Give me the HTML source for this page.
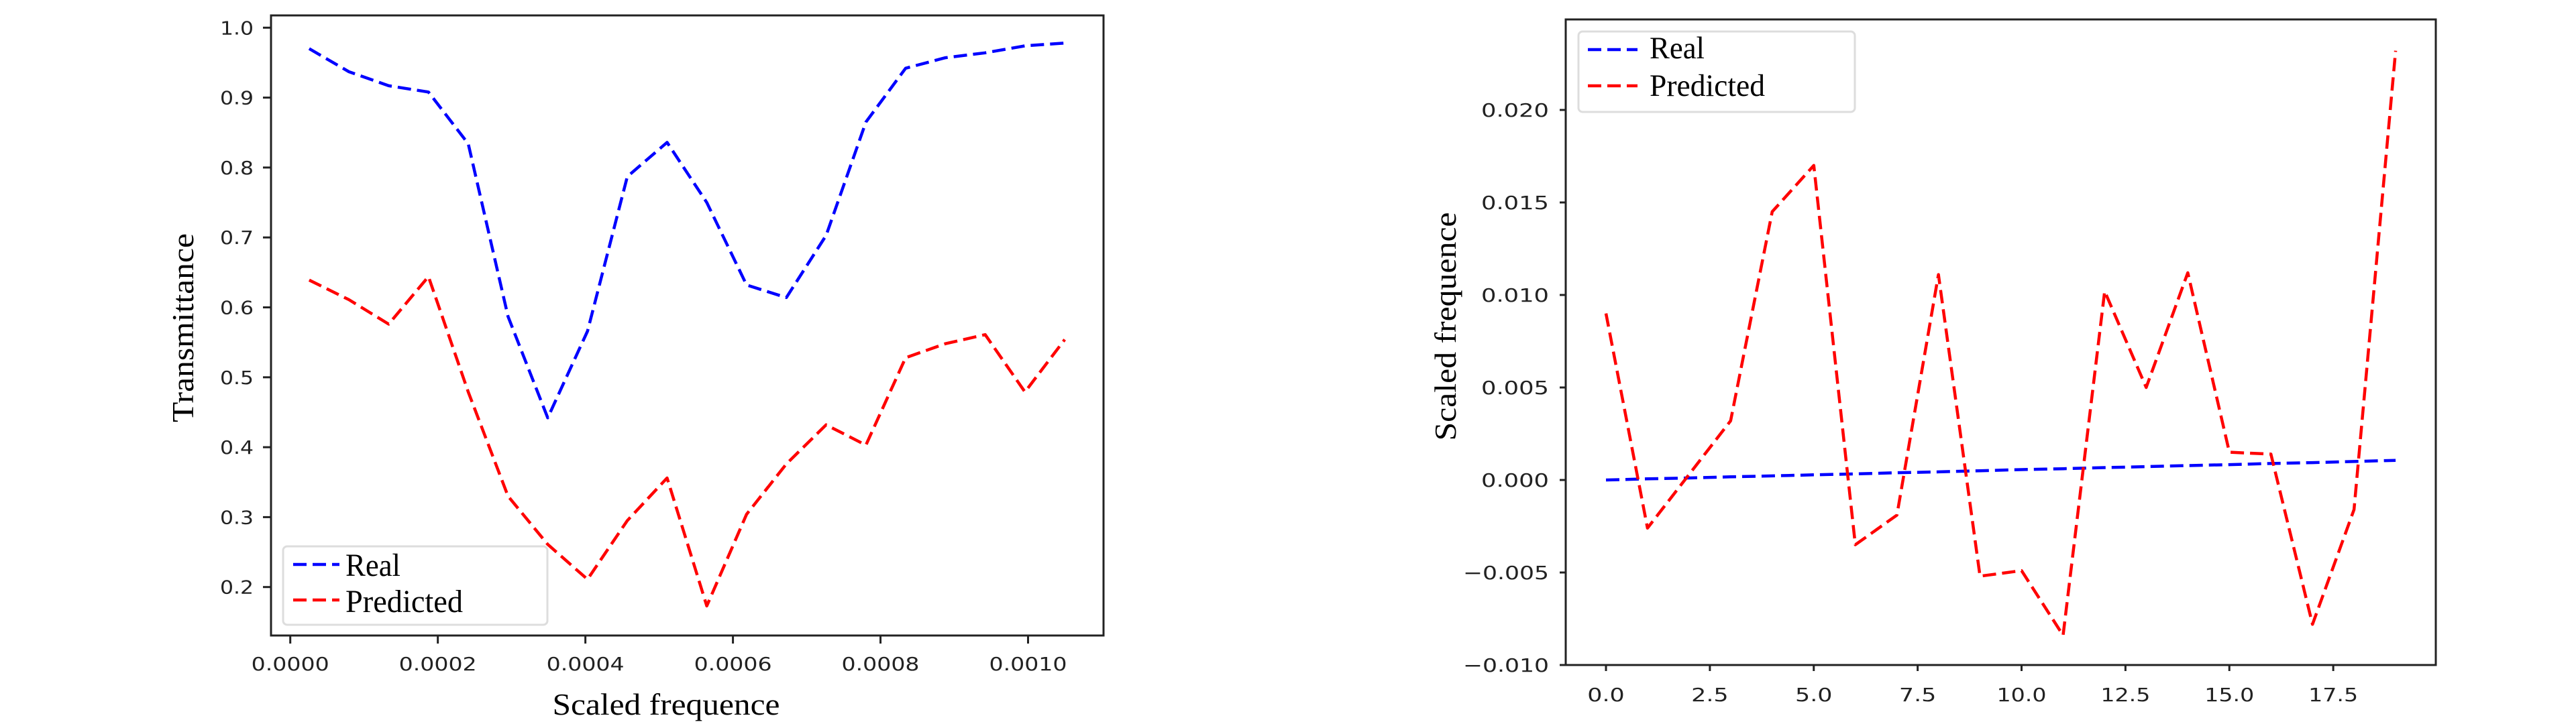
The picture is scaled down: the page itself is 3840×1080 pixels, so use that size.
<!DOCTYPE html>
<html><head><meta charset="utf-8"><title>Transmittance charts</title>
<style>
html,body{margin:0;padding:0;background:#fff;}
svg{display:block;}
.tick{font-family:"DejaVu Sans","Liberation Sans",sans-serif;font-size:28px;fill:#222;}
.title{font-family:"Liberation Serif",serif;fill:#000;}
</style></head>
<body>
<svg id="chart" width="3840" height="1080" viewBox="0 0 3840 1080" xmlns="http://www.w3.org/2000/svg">
<rect x="0" y="0" width="3840" height="1080" fill="#fff"/>
<g id="left"></g>
<g id="right"></g>
</svg>
<script>
// ---- Left chart data ----
const leftX = [0.0000256,0.0000795,0.0001334,0.0001873,0.0002412,0.0002951,0.000349,0.0004029,0.0004568,0.0005107,0.0005646,0.0006185,0.0006724,0.0007263,0.0007802,0.0008341,0.000888,0.0009419,0.0009958,0.0010497];
const leftReal = [0.970,0.937,0.917,0.908,0.834,0.587,0.442,0.566,0.787,0.836,0.750,0.632,0.614,0.703,0.865,0.942,0.957,0.964,0.974,0.978];
const leftPred = [0.639,0.611,0.576,0.644,0.479,0.330,0.261,0.211,0.295,0.356,0.173,0.304,0.376,0.432,0.403,0.528,0.548,0.561,0.479,0.554];
const leftXTicks = [0,0.0002,0.0004,0.0006,0.0008,0.0010];
const leftXTickLabels = ["0.0000","0.0002","0.0004","0.0006","0.0008","0.0010"];
const leftYTicks = [0.2,0.3,0.4,0.5,0.6,0.7,0.8,0.9,1.0];
const leftYTickLabels = ["0.2","0.3","0.4","0.5","0.6","0.7","0.8","0.9","1.0"];
// ---- Right chart data ----
const rightX = [0,1,2,3,4,5,6,7,8,9,10,11,12,13,14,15,16,17,18,19];
const rightReal = [0.00000,0.00006,0.00011,0.00017,0.00022,0.00028,0.00033,0.00039,0.00044,0.00050,0.00056,0.00061,0.00067,0.00072,0.00078,0.00083,0.00089,0.00094,0.00100,0.00106];
const rightPred = [0.0090,-0.0026,0.0003,0.0032,0.0145,0.0170,-0.0035,-0.0019,0.0111,-0.0052,-0.0049,-0.0084,0.0102,0.0050,0.0112,0.0015,0.0014,-0.0078,-0.0016,0.0232];
const rightXTicks = [0,2.5,5,7.5,10,12.5,15,17.5];
const rightXTickLabels = ["0.0","2.5","5.0","7.5","10.0","12.5","15.0","17.5"];
const rightYTicks = [-0.010,-0.005,0,0.005,0.010,0.015,0.020];
const rightYTickLabels = ["\u22120.010","\u22120.005","0.000","0.005","0.010","0.015","0.020"];

const NS = "http://www.w3.org/2000/svg";
function mk(parent, tag, attrs){
  const e = document.createElementNS(NS, tag);
  for (const k in attrs) e.setAttribute(k, attrs[k]);
  parent.appendChild(e);
  return e;
}

// Left axes functions
const lx = v => 432.7 + v / 0.001 * 1099.8;
const ly = v => 41.3 + (1 - v) * 10 * 104.3;
// Right axes functions
const rx = v => 2394 + v * 61.95;
const ry = v => 716 - v / 0.005 * 138;

function drawChart(g, cfg){
  // frame
  const frame = mk(g, 'rect', {x:cfg.box[0], y:cfg.box[1], width:cfg.box[2]-cfg.box[0], height:cfg.box[3]-cfg.box[1], fill:'none', stroke:'#222', 'stroke-width':3});
  
  
  // x ticks
  cfg.xTicks.forEach((t, i) => {
    const x = cfg.fx(t);
    const tk = mk(g, 'line', {x1:x, x2:x, y1:cfg.box[3], y2:cfg.box[3]+cfg.tickLen, stroke:'#222', 'stroke-width':3});
    
    
    const lb = mk(g, 'text', {x:x, y:cfg.xLabelY, 'text-anchor':'middle', class:'tick', textLength:cfg.xLabelW(cfg.xTickLabels[i]), lengthAdjust:'spacingAndGlyphs'});
    lb.textContent = cfg.xTickLabels[i];
    
    
  });
  // y ticks
  cfg.yTicks.forEach((t, i) => {
    const y = cfg.fy(t);
    const tk = mk(g, 'line', {x1:cfg.box[0]-cfg.tickLen, x2:cfg.box[0], y1:y, y2:y, stroke:'#222', 'stroke-width':3});
    
    
    const lb = mk(g, 'text', {x:cfg.yLabelX, y:y+10, 'text-anchor':'end', class:'tick', textLength:cfg.yLabelW(cfg.yTickLabels[i]), lengthAdjust:'spacingAndGlyphs'});
    lb.textContent = cfg.yTickLabels[i];
    
    
  });
  // series
  cfg.series.forEach(s => {
    const pts = cfg.xs.map((xv, i) => cfg.fx(xv).toFixed(1) + ',' + cfg.fy(s.vals[i]).toFixed(1)).join(' ');
    const pl = mk(g, 'polyline', {points:pts, fill:'none', stroke:s.color, 'stroke-width':4.5, 'stroke-dasharray':'20 9', 'stroke-linejoin':'round'});
    
    
  });
  // legend
  const L = cfg.legend;
  const lg = mk(g, 'g', {});
  
  
  mk(lg, 'rect', {x:L.x, y:L.y, width:L.w, height:L.h, rx:6, fill:'#fff', stroke:'#ddd', 'stroke-width':3});
  L.entries.forEach(en => {
    const ln = mk(lg, 'line', {x1:L.lx1, x2:L.lx2, y1:en.y, y2:en.y, stroke:en.color, 'stroke-width':4.5, 'stroke-dasharray':'20 9'});
    
    
    const tx = mk(lg, 'text', {x:L.tx, y:en.base, class:'title', 'font-size':L.fs, textLength:en.w, lengthAdjust:'spacingAndGlyphs'});
    tx.textContent = en.label;
    
    
  });
  // titles
  const xt = mk(g, 'text', {x:cfg.xTitle.x, y:cfg.xTitle.y, 'text-anchor':'middle', class:'title', 'font-size':cfg.xTitle.fs, textLength:cfg.xTitle.w, lengthAdjust:'spacingAndGlyphs'});
  xt.textContent = cfg.xTitle.text;
  
  
  const yt = mk(g, 'text', {x:0, y:0, 'text-anchor':'middle', class:'title', 'font-size':cfg.yTitle.fs, textLength:cfg.yTitle.w, lengthAdjust:'spacingAndGlyphs', transform:'translate('+cfg.yTitle.x+','+cfg.yTitle.y+') rotate(-90)'});
  yt.textContent = cfg.yTitle.text;
  
  
}

drawChart(document.getElementById('left'), {
  box:[404,23,1645,948], tickLen:12, fx:lx, fy:ly,
  xTicks:leftXTicks, xTickLabels:leftXTickLabels, xLabelY:1000, xLabelW:s => 116,
  yTicks:leftYTicks, yTickLabels:leftYTickLabels, yLabelX:378, yLabelW:s => 50,
  xs:leftX,
  series:[{name:'real-line', vals:leftReal, color:'#0000ff'},{name:'predicted-line', vals:leftPred, color:'#ff0000'}],
  legend:{x:422,y:815,w:394,h:117,lx1:437,lx2:506,tx:515,fs:48,
    entries:[{label:'Real',y:842,base:859,w:82,color:'#0000ff'},{label:'Predicted',y:895,base:913,w:175,color:'#ff0000'}]},
  xTitle:{text:'Scaled frequence', x:993, y:1066, fs:46, w:339},
  yTitle:{text:'Transmittance', x:288, y:489, fs:46, w:282}
});

drawChart(document.getElementById('right'), {
  box:[2334,29,3631,992], tickLen:9, fx:rx, fy:ry,
  xTicks:rightXTicks, xTickLabels:rightXTickLabels, xLabelY:1046, xLabelW:s => s.length*18.5,
  yTicks:rightYTicks, yTickLabels:rightYTickLabels, yLabelX:2309, yLabelW:s => s.length === 5 ? 101 : 128,
  xs:rightX,
  series:[{name:'real-line', vals:rightReal, color:'#0000ff'},{name:'predicted-line', vals:rightPred, color:'#ff0000'}],
  legend:{x:2353,y:47,w:412,h:120,lx1:2367,lx2:2441,tx:2459,fs:47,
    entries:[{label:'Real',y:74,base:87,w:82,color:'#0000ff'},{label:'Predicted',y:128,base:143,w:172,color:'#ff0000'}]},
  xTitle:{text:'', x:2980, y:1070, fs:46, w:1},
  yTitle:{text:'Scaled frequence', x:2170, y:487, fs:46, w:341}
});
</script>
</body></html>
